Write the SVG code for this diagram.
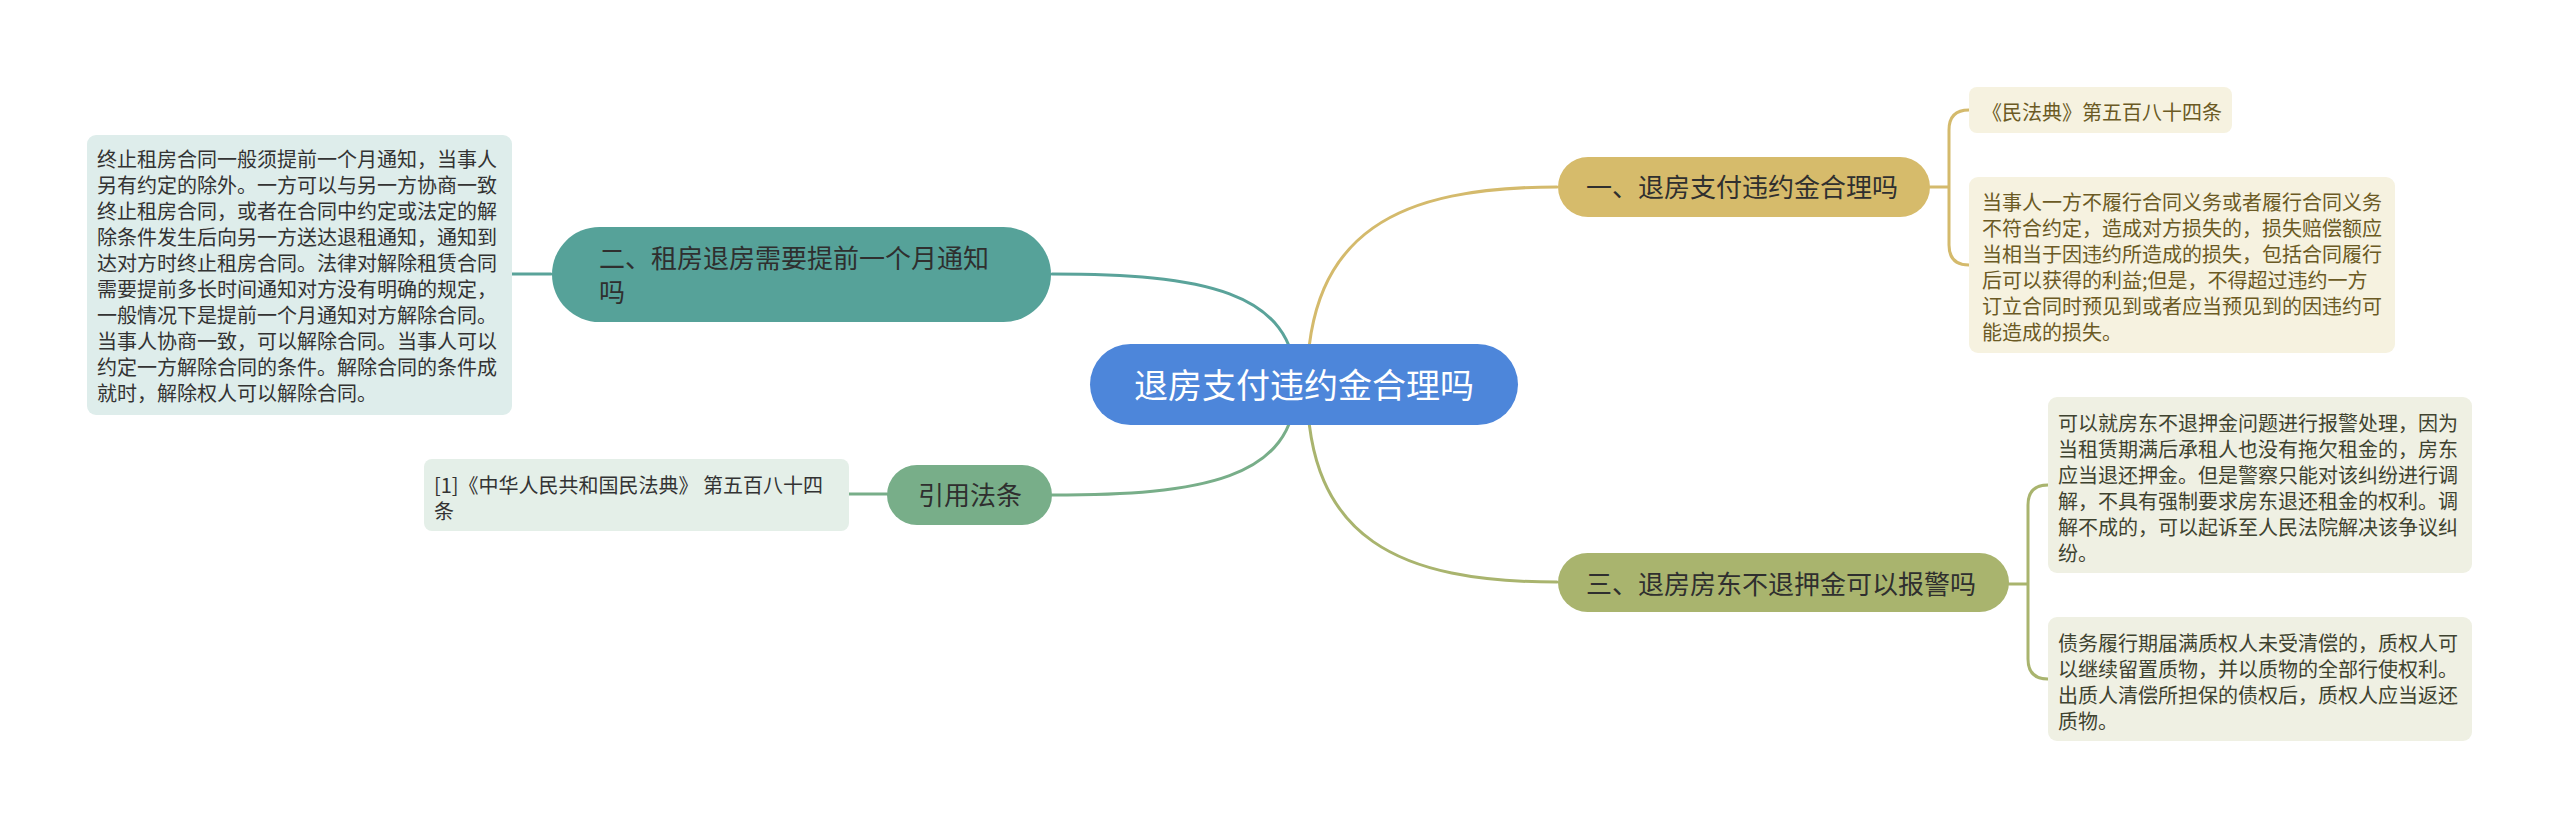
<svg xmlns="http://www.w3.org/2000/svg" width="2560" height="829" viewBox="0 0 2560 829">
<style>
text{font-family:"Noto Sans CJK SC","Noto Sans",sans-serif;}
.t20{font-size:20px;fill:#333333;}
.t26{font-size:26px;fill:#2f2f2f;}
.brown{fill:#6b5a24;}
.olv{fill:#3f4330;}
.con{fill:none;stroke-width:3;stroke-linecap:round;}
</style>
<rect width="2560" height="829" fill="#ffffff"/>
<g id="connectors">
<path class="con" stroke="#5aa39a" d="M1052,274 C1200,274 1296,290 1296,385"/>
<path class="con" stroke="#78ae89" d="M1052,495 C1200,495 1296,480 1296,385"/>
<path class="con" stroke="#d4ba6c" d="M1307,385 C1307,230 1400,187 1557,187"/>
<path class="con" stroke="#a9b46e" d="M1307,385 C1307,540 1400,582 1557,582"/>
<path class="con" stroke="#5aa39a" d="M511,274 L551,274"/>
<path class="con" stroke="#78ae89" d="M848,494 L887,494"/>
<path class="con" stroke="#d4ba6c" d="M1930,187 L1949,187 M1969,110 Q1949,110 1949,130 L1949,245 Q1949,265 1969,265"/>
<path class="con" stroke="#a9b46e" d="M2009,584 L2028,584 M2048,485 Q2028,485 2028,505 L2028,659 Q2028,679 2048,679"/>
</g>
<g id="center">
<rect x="1090" y="344" width="428" height="81" rx="40.5" fill="#4d86da"/>
<text x="1304" y="398" text-anchor="middle" style="font-size:34px;fill:#ffffff">退房支付违约金合理吗</text>
</g>
<g id="node-2">
<rect x="552" y="227" width="499" height="95" rx="47.5" fill="#56a299"/>
<text class="t26" x="599" y="268">二、租房退房需要提前一个月通知</text>
<text class="t26" x="599" y="302">吗</text>
</g>
<g id="node-2-detail">
<rect x="87" y="135" width="425" height="280" rx="9" fill="#deedeb"/>
<text class="t20" x="97" y="167">终止租房合同一般须提前一个月通知，当事人</text>
<text class="t20" x="97" y="193">另有约定的除外。一方可以与另一方协商一致</text>
<text class="t20" x="97" y="219">终止租房合同，或者在合同中约定或法定的解</text>
<text class="t20" x="97" y="245">除条件发生后向另一方送达退租通知，通知到</text>
<text class="t20" x="97" y="271">达对方时终止租房合同。法律对解除租赁合同</text>
<text class="t20" x="97" y="297">需要提前多长时间通知对方没有明确的规定，</text>
<text class="t20" x="97" y="323">一般情况下是提前一个月通知对方解除合同。</text>
<text class="t20" x="97" y="349">当事人协商一致，可以解除合同。当事人可以</text>
<text class="t20" x="97" y="375">约定一方解除合同的条件。解除合同的条件成</text>
<text class="t20" x="97" y="401">就时，解除权人可以解除合同。</text>
</g>
<g id="node-cite">
<rect x="887" y="465" width="165" height="60" rx="30" fill="#78ae89"/>
<text class="t26" x="970" y="505" text-anchor="middle">引用法条</text>
</g>
<g id="node-cite-detail">
<rect x="424" y="459" width="425" height="72" rx="8" fill="#e4efe8"/>
<text class="t20" x="434" y="493">[1]《中华人民共和国民法典》 第五百八十四</text>
<text class="t20" x="434" y="519">条</text>
</g>
<g id="node-1">
<rect x="1558" y="157" width="372" height="60" rx="30" fill="#d6bb6b"/>
<text class="t26" x="1586" y="197">一、退房支付违约金合理吗</text>
</g>
<g id="node-1-detail-a">
<rect x="1969" y="87" width="263" height="46" rx="8" fill="#f6f2e0"/>
<text class="t20 brown" x="1982" y="120">《民法典》第五百八十四条</text>
</g>
<g id="node-1-detail-b">
<rect x="1969" y="177" width="426" height="176" rx="9" fill="#f6f2e0"/>
<text class="t20 brown" x="1982" y="210">当事人一方不履行合同义务或者履行合同义务</text>
<text class="t20 brown" x="1982" y="236">不符合约定，造成对方损失的，损失赔偿额应</text>
<text class="t20 brown" x="1982" y="262">当相当于因违约所造成的损失，包括合同履行</text>
<text class="t20 brown" x="1982" y="288">后可以获得的利益;但是，不得超过违约一方</text>
<text class="t20 brown" x="1982" y="314">订立合同时预见到或者应当预见到的因违约可</text>
<text class="t20 brown" x="1982" y="340">能造成的损失。</text>
</g>
<g id="node-3">
<rect x="1558" y="553" width="451" height="59" rx="29.5" fill="#a9b46e"/>
<text class="t26" x="1586" y="594">三、退房房东不退押金可以报警吗</text>
</g>
<g id="node-3-detail-a">
<rect x="2048" y="397" width="424" height="176" rx="9" fill="#eff0e3"/>
<text class="t20 olv" x="2058" y="431">可以就房东不退押金问题进行报警处理，因为</text>
<text class="t20 olv" x="2058" y="457">当租赁期满后承租人也没有拖欠租金的，房东</text>
<text class="t20 olv" x="2058" y="483">应当退还押金。但是警察只能对该纠纷进行调</text>
<text class="t20 olv" x="2058" y="509">解，不具有强制要求房东退还租金的权利。调</text>
<text class="t20 olv" x="2058" y="535">解不成的，可以起诉至人民法院解决该争议纠</text>
<text class="t20 olv" x="2058" y="561">纷。</text>
</g>
<g id="node-3-detail-b">
<rect x="2048" y="617" width="424" height="124" rx="9" fill="#eff0e3"/>
<text class="t20 olv" x="2058" y="651">债务履行期届满质权人未受清偿的，质权人可</text>
<text class="t20 olv" x="2058" y="677">以继续留置质物，并以质物的全部行使权利。</text>
<text class="t20 olv" x="2058" y="703">出质人清偿所担保的债权后，质权人应当返还</text>
<text class="t20 olv" x="2058" y="729">质物。</text>
</g>
</svg>
